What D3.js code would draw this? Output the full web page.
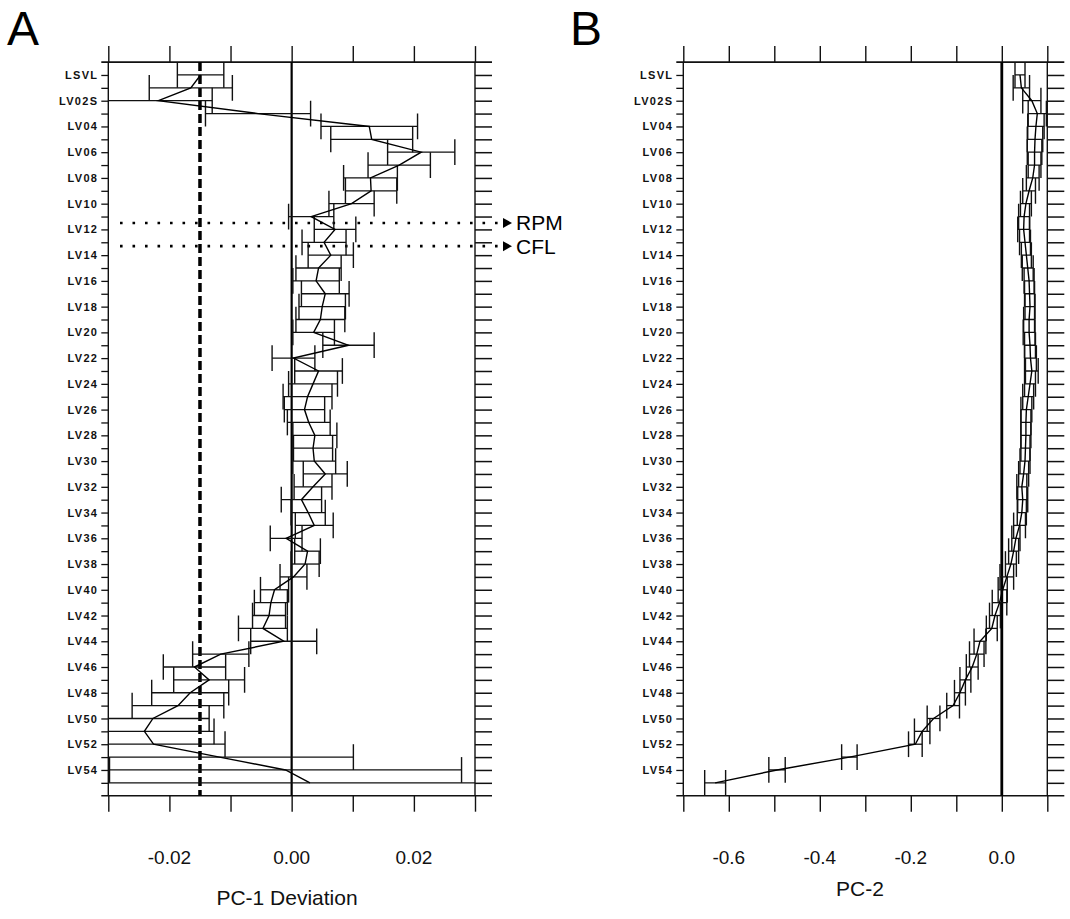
<!DOCTYPE html>
<html>
<head>
<meta charset="utf-8">
<script src="https://cdn.jsdelivr.net/npm/d3@7"></script>
<style>
  body { margin: 0; background: #fff; }
  svg { font-family: "Liberation Sans", Arial, sans-serif; }
  .rowlab { font-size: 11px; font-weight: bold; letter-spacing: 1.3px; fill: #111; }
  .ticklab { font-size: 19px; fill: #111; }
  .title { font-size: 21px; fill: #111; }
</style>
</head>
<body>
<div id="chart"></div>
<script>
// rows of the figure, top to bottom (only every other one is labelled)
var rows = ["LSVL","LV01","LV02S","LV03","LV04","LV05","LV06","LV07","LV08","LV09",
  "LV10","LV11","LV12","LV13","LV14","LV15","LV16","LV17","LV18","LV19",
  "LV20","LV21","LV22","LV23","LV24","LV25","LV26","LV27","LV28","LV29",
  "LV30","LV31","LV32","LV33","LV34","LV35","LV36","LV37","LV38","LV39",
  "LV40","LV41","LV42","LV43","LV44","LV45","LV46","LV47","LV48","LV49",
  "LV50","LV51","LV52","LV53","LV54","LV55"];

// panel A : PC-1 deviation and half width of bar
var pc1Dev = [-0.0149,-0.0165,-0.0218,-0.0055,0.0127,0.0131,0.0212,0.0176,0.0129,0.0130,
  0.0098,0.0032,0.0071,0.0053,0.0064,0.0044,0.0040,0.0055,0.0050,0.0047,
  0.0036,0.0093,0.0003,0.0044,0.0035,0.0026,0.0021,0.0028,0.0038,0.0035,
  0.0037,0.0055,0.0035,0.0016,0.0027,0.0037,-0.0009,0.0026,0.0022,0.0003,
  -0.0028,-0.0034,-0.0037,-0.0047,-0.0013,-0.0116,-0.0159,-0.0135,-0.0166,-0.0186,
  -0.0227,-0.0241,-0.0226,-0.0118,-0.0010,0.0030];
var pc1Err = [0.0038,0.0068,0.0088,0.0086,0.0079,0.0067,0.0055,0.0051,0.0044,0.0042,
  0.0037,0.0037,0.0034,0.0036,0.0037,0.0037,0.0038,0.0039,0.0038,0.0040,
  0.0034,0.0042,0.0035,0.0039,0.0040,0.0040,0.0033,0.0035,0.0036,0.0032,
  0.0035,0.0036,0.0031,0.0033,0.0028,0.0031,0.0026,0.0021,0.0023,0.0022,
  0.0023,0.0027,0.0027,0.0040,0.0054,0.0046,0.0051,0.0058,0.0063,0.0075,
  0.0092,0.0114,0.0117,0.0219,0.0288,0.0350];

// panel B : PC-2
var pc2 = [0.040,0.043,0.066,0.078,0.075,0.073,0.072,0.072,0.068,0.060,
  0.053,0.049,0.048,0.051,0.054,0.057,0.060,0.061,0.062,0.060,
  0.060,0.062,0.063,0.066,0.062,0.058,0.054,0.053,0.053,0.052,
  0.051,0.048,0.044,0.046,0.044,0.039,0.031,0.026,0.020,0.011,
  0.002,-0.005,-0.015,-0.022,-0.048,-0.055,-0.065,-0.080,-0.092,-0.107,
  -0.150,-0.175,-0.190,-0.335,-0.494,-0.630];
var pc2Err = [0.011,0.018,0.020,0.020,0.018,0.017,0.016,0.014,0.014,0.014,
  0.012,0.012,0.013,0.012,0.011,0.012,0.011,0.011,0.011,0.012,
  0.013,0.012,0.013,0.014,0.012,0.012,0.012,0.011,0.011,0.010,
  0.011,0.011,0.011,0.011,0.010,0.013,0.009,0.011,0.012,0.015,
  0.010,0.016,0.012,0.012,0.013,0.016,0.013,0.012,0.012,0.014,
  0.014,0.017,0.015,0.017,0.018,0.023];

var pc1Ticks = [-0.03,-0.02,-0.01,0,0.01,0.02,0.03];
var pc1TickLabels = [-0.02,0,0.02];
var pc2Ticks = [-0.7,-0.6,-0.5,-0.4,-0.3,-0.2,-0.1,0,0.1];
var pc2TickLabels = [-0.6,-0.4,-0.2,0];

var cutoff = -0.015;                                  // dashed line in A
var refRows = [{name: "RPM", pos: 11.5}, {name: "CFL", pos: 13.3}];

var W = 1070, H = 919;
var plotTop = 62.1, plotBottom = 795.7;

var svg = d3.select("#chart").append("svg")
  .attr("width", W).attr("height", H);

var y = d3.scaleLinear().domain([-1, rows.length]).range([plotTop, plotBottom]);
var step = y(1) - y(0);

function drawPanel(p){
  var x = d3.scaleLinear().domain(p.domain).range(p.range);
  var g = svg.append("g");
  var x0 = p.range[0], x1 = p.range[1];

  g.append("clipPath").attr("id", "clip" + p.id)
    .append("rect")
    .attr("x", x0).attr("y", plotTop)
    .attr("width", x1 - x0).attr("height", plotBottom - plotTop);

  // left axis with row names
  g.append("g")
    .attr("transform", "translate(" + x0 + ",0)")
    .call(d3.axisLeft(y).tickValues(d3.range(rows.length)).tickSize(7).tickPadding(3)
      .tickFormat(function(i){ return i % 2 === 0 ? rows[i] : ""; }))
    .call(function(a){
      a.select(".domain").remove();
      a.selectAll("line").attr("stroke", "#111").attr("stroke-width", 1.3);
      a.selectAll("text").attr("class", "rowlab").attr("font-size", null).attr("font-family", null);
    });

  // right axis, long ticks only
  g.append("g")
    .attr("transform", "translate(" + x1 + ",0)")
    .call(d3.axisRight(y).tickValues(d3.range(rows.length)).tickSize(17).tickFormat(""))
    .call(function(a){
      a.select(".domain").remove();
      a.selectAll("line").attr("stroke", "#111").attr("stroke-width", 1.5);
    });

  // top and bottom ticks
  g.append("g")
    .attr("transform", "translate(0," + plotTop + ")")
    .call(d3.axisTop(x).tickValues(p.ticks).tickSize(16).tickFormat(""))
    .call(function(a){
      a.select(".domain").remove();
      a.selectAll("line").attr("stroke", "#111").attr("stroke-width", 1.4);
    });
  g.append("g")
    .attr("transform", "translate(0," + plotBottom + ")")
    .call(d3.axisBottom(x).tickValues(p.ticks).tickSize(16).tickFormat(""))
    .call(function(a){
      a.select(".domain").remove();
      a.selectAll("line").attr("stroke", "#111").attr("stroke-width", 1.4);
    });

  g.selectAll(".ticklab")
    .data(p.labels)
    .enter().append("text")
    .attr("class", "ticklab")
    .attr("text-anchor", "middle")
    .attr("x", function(d){ return x(d); })
    .attr("y", p.labelY)
    .text(function(d){ return d.toFixed(p.digits); });

  // frame
  [plotTop, plotBottom].forEach(function(yy){
    g.append("line")
      .attr("x1", x0 - 7).attr("x2", x1 + 17)
      .attr("y1", yy).attr("y2", yy)
      .attr("stroke", "#111").attr("stroke-width", 1.6);
  });
  [x0, x1].forEach(function(xx){
    g.append("line")
      .attr("x1", xx).attr("x2", xx)
      .attr("y1", plotTop).attr("y2", plotBottom)
      .attr("stroke", "#111").attr("stroke-width", 1.4);
  });

  // zero line
  g.append("line")
    .attr("x1", x(0)).attr("x2", x(0))
    .attr("y1", plotTop).attr("y2", plotBottom)
    .attr("stroke", "#000").attr("stroke-width", p.zeroWidth);

  if (p.extra) p.extra(g, x);

  var inner = g.append("g").attr("clip-path", "url(#clip" + p.id + ")");
  var bars = inner.selectAll(".bar")
    .data(p.vals.map(function(v, i){ return {i: i, v: v, e: p.errs[i]}; }))
    .enter().append("g").attr("class", "bar");

  bars.append("line")
    .attr("x1", function(d){ return x(d.v - d.e); })
    .attr("x2", function(d){ return x(d.v + d.e); })
    .attr("y1", function(d){ return y(d.i); })
    .attr("y2", function(d){ return y(d.i); })
    .attr("stroke", "#111").attr("stroke-width", 1.3);

  [-1, 1].forEach(function(s){
    bars.append("line")
      .attr("x1", function(d){ return x(d.v + s * d.e); })
      .attr("x2", function(d){ return x(d.v + s * d.e); })
      .attr("y1", function(d){ return y(d.i) - step; })
      .attr("y2", function(d){ return y(d.i) + step; })
      .attr("stroke", "#111").attr("stroke-width", 1.4);
  });

  inner.append("path")
    .datum(p.vals)
    .attr("fill", "none")
    .attr("stroke", "#000")
    .attr("stroke-width", 1.4)
    .attr("d", d3.line()
      .x(function(d){ return x(d); })
      .y(function(d, i){ return y(i); }));

  // axis title and panel letter
  g.append("text").attr("class", "title")
    .attr("text-anchor", "middle")
    .attr("x", p.titleX).attr("y", p.titleY)
    .text(p.title);
  g.append("text")
    .attr("x", p.letterX).attr("y", 45)
    .style("font-size", "48px")
    .text(p.letter);
}

drawPanel({
  id: "A", domain: [-0.03, 0.03], range: [108.3, 475],
  vals: pc1Dev, errs: pc1Err, ticks: pc1Ticks, labels: pc1TickLabels, digits: 2,
  labelY: 864, title: "PC-1 Deviation", titleX: 287, titleY: 905,
  letter: "A", letterX: 7, zeroWidth: 2.2,
  extra: function(g, x){
    g.append("line")
      .attr("x1", x(cutoff)).attr("x2", x(cutoff))
      .attr("y1", plotTop).attr("y2", plotBottom)
      .attr("stroke", "#000").attr("stroke-width", 3.5)
      .attr("stroke-dasharray", "9,4");

    var ref = g.selectAll(".ref").data(refRows).enter().append("g");
    ref.append("line")
      .attr("x1", 120).attr("x2", 500)
      .attr("y1", function(d){ return y(d.pos); })
      .attr("y2", function(d){ return y(d.pos); })
      .attr("stroke", "#000").attr("stroke-width", 2.6)
      .attr("stroke-dasharray", "2.6,9.9");
    ref.append("path")
      .attr("d", function(d){
        var yy = y(d.pos);
        return "M503," + (yy - 5) + "L512," + yy + "L503," + (yy + 5) + "Z";
      })
      .attr("fill", "#000");
    ref.append("text")
      .attr("x", 516).attr("y", function(d){ return y(d.pos) + 7.5; })
      .style("font-size", "21px")
      .text(function(d){ return d.name; });
  }
});

drawPanel({
  id: "B", domain: [-0.7, 0.1], range: [683.3, 1047.3],
  vals: pc2, errs: pc2Err, ticks: pc2Ticks, labels: pc2TickLabels, digits: 1,
  labelY: 864, title: "PC-2", titleX: 860, titleY: 896,
  letter: "B", letterX: 570, zeroWidth: 2.8
});
</script>
</body>
</html>
